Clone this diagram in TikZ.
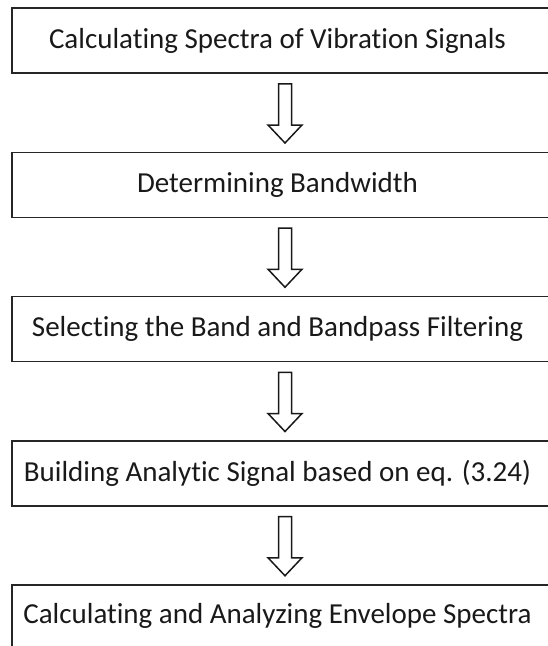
\documentclass[tikz,border=0pt]{standalone}
\usepackage{fontspec}
\setmainfont[Ligatures=NoCommon]{Carlito}
\usetikzlibrary{calc}
\begin{document}
\begin{tikzpicture}[x=1pt,y=-1pt,
  box/.style={draw=black!85, line width=1.5pt, minimum width=540pt, minimum height=65pt, inner sep=0pt},
  lbl/.style={font=\fontsize{29}{34}\selectfont, inner sep=0pt, text=black!90},
  blockarrow/.style={draw=black!90, line width=1.5pt, fill=white, line join=miter}]
\useasboundingbox (0,0) rectangle (548,646);
\clip (0,0) rectangle (548,646);
\node[box] (b1) at (282,40.5) {};
\node[box] (b2) at (282,184.75) {};
\node[box] (b3) at (282,329) {};
\node[box] (b4) at (282,473.25) {};
\node[box] (b5) at (282,617.5) {};
\node[lbl] (t1) at (277.5,40.5) {Calculating Spectra of Vibration Signals};
\node[lbl] (t2) at (277.5,184.75) {Determining Bandwidth};
\node[lbl] (t3) at (277.5,329) {Selecting the Band and Bandpass Filtering};
\node[lbl] (t4) at (277.5,473.25) {Building Analytic Signal based on eq. (3.24)};
\node[lbl] (t5) at (277.5,616) {Calculating and Analyzing Envelope Spectra};
\foreach \i/\j in {1/2,2/3,3/4,4/5}{
  \coordinate (a\i) at ($(b\i.south)+(3,10)$);
  \draw[blockarrow] (a\i) ++(-6.5,0) -- ++(0,41.25) -- ++(-10.5,0) -- ++(17,18) -- ++(17,-18) -- ++(-10.5,0) -- ++(0,-41.25) -- cycle;
}
\end{tikzpicture}
\end{document}
